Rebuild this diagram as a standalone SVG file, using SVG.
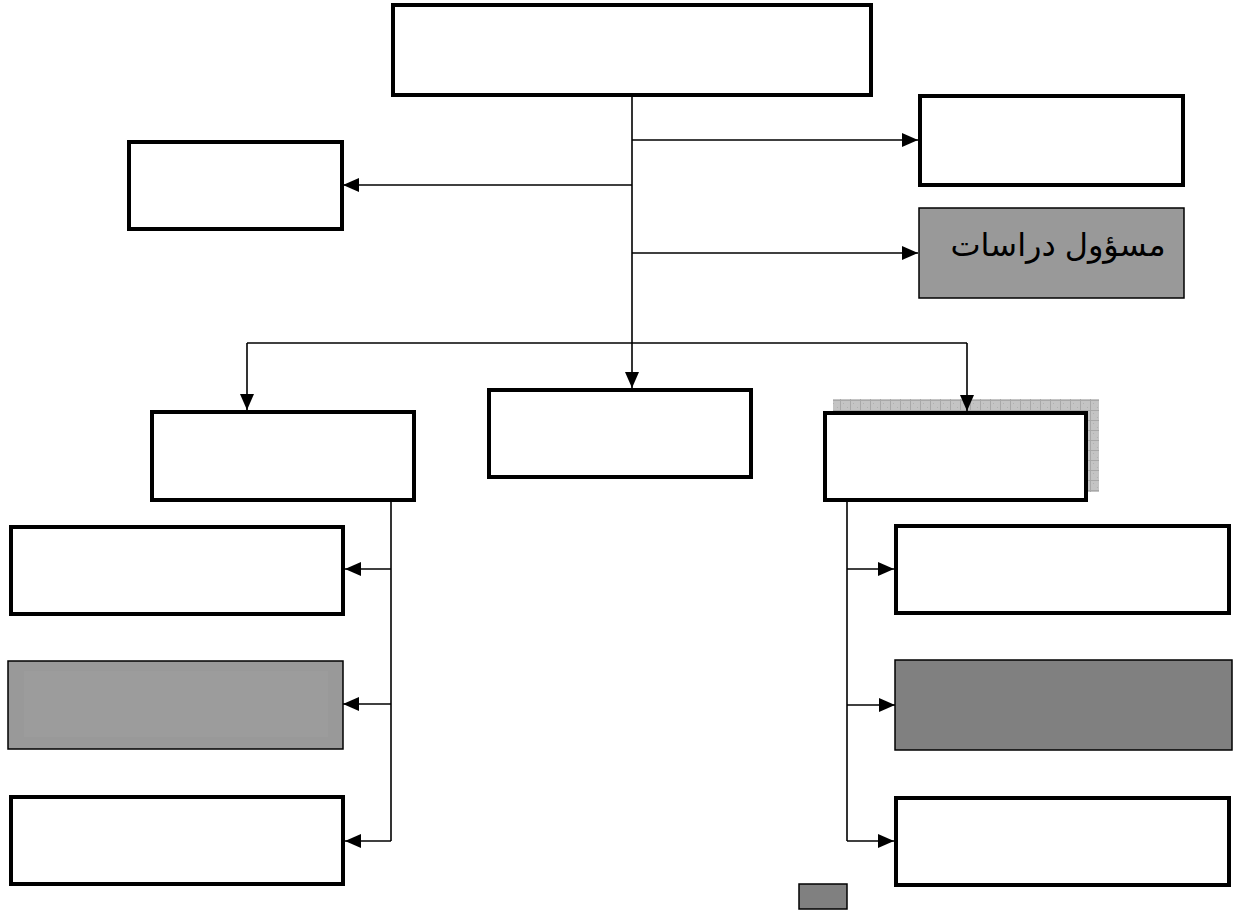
<svg xmlns="http://www.w3.org/2000/svg" width="1236" height="913" viewBox="0 0 1236 913">
<style>
.box{fill:#ffffff;stroke:#000000;stroke-width:4}
.gray{fill:#999999;stroke:#000000;stroke-width:1.5}
.dark{fill:#808080;stroke:#000000;stroke-width:1.5}
.ln{fill:none;stroke:#000000;stroke-width:1.6}
.arr{marker-end:url(#ah)}
.lbl{font-family:"Liberation Sans","DejaVu Sans",sans-serif;font-size:32px;fill:#000000}
</style>
<defs>
<marker id="ah" markerUnits="userSpaceOnUse" markerWidth="16" markerHeight="16" viewBox="0 0 16 16" refX="16" refY="8" orient="auto">
<path d="M0 1 L16 8 L0 15 Z" fill="#000000"/>
</marker>
<pattern id="hatch" patternUnits="userSpaceOnUse" width="10" height="10">
<rect width="10" height="10" fill="#c4c4c4"/>
<path d="M0 0.5 H10 M0.5 0 V10" stroke="#a8a8a8" stroke-width="1"/>
<rect x="3" y="3" width="1" height="1" fill="#b0b0b0"/>
<rect x="7" y="7" width="1" height="1" fill="#b0b0b0"/>
</pattern>
</defs>
<g id="node-top"><rect class="box" x="393" y="5" width="478" height="90"/></g>
<g id="node-top-left"><rect class="box" x="129" y="142" width="213" height="87"/></g>
<g id="node-top-right"><rect class="box" x="920" y="96" width="263" height="89"/></g>
<g id="node-studies">
<rect class="gray" x="919" y="208" width="265" height="90"/>
<text class="lbl" x="1058" y="256" text-anchor="middle" direction="rtl">مسؤول دراسات</text>
</g>
<g id="node-mid-left"><rect class="box" x="152" y="412" width="262" height="88"/></g>
<g id="node-mid-center"><rect class="box" x="489" y="390" width="262" height="87"/></g>
<g id="node-mid-right">
<rect x="833" y="399" width="266" height="93" fill="url(#hatch)"/>
<rect class="box" x="825" y="413" width="261" height="87"/>
</g>
<g id="node-left-1"><rect class="box" x="11" y="527" width="332" height="87"/></g>
<g id="node-left-2">
<rect class="gray" x="8" y="661" width="335" height="88" fill="#959595"/>
<rect x="24" y="671" width="304" height="66" fill="#9c9c9c"/>
</g>
<g id="node-left-3"><rect class="box" x="11" y="797" width="332" height="87"/></g>
<g id="node-right-1"><rect class="box" x="896" y="526" width="333" height="87"/></g>
<g id="node-right-2"><rect class="dark" x="895" y="660" width="337" height="90"/></g>
<g id="node-right-3"><rect class="box" x="896" y="798" width="333" height="87"/></g>
<g id="node-small"><rect class="dark" x="799" y="884" width="48" height="25" stroke-width="2"/></g>
<g id="connectors">
<path class="ln arr" d="M632 97 V388"/>
<path class="ln arr" d="M632 140 H918"/>
<path class="ln arr" d="M632 185 H343"/>
<path class="ln arr" d="M632 253 H918"/>
<path class="ln" d="M247 343 H967"/>
<path class="ln arr" d="M247 343 V410"/>
<path class="ln arr" d="M967 343 V411"/>
<path class="ln" d="M391 501 V841"/>
<path class="ln arr" d="M391 569 H345"/>
<path class="ln arr" d="M391 704 H343"/>
<path class="ln arr" d="M391 841 H345"/>
<path class="ln" d="M847 501 V841"/>
<path class="ln arr" d="M847 569 H894"/>
<path class="ln arr" d="M847 705 H895"/>
<path class="ln arr" d="M847 841 H894"/>
</g>
</svg>
